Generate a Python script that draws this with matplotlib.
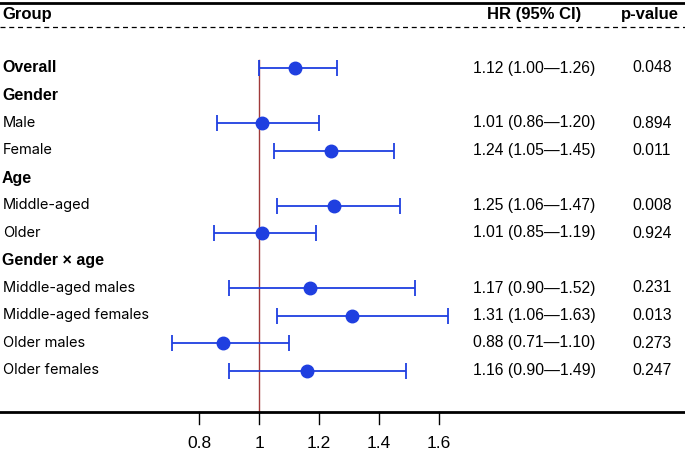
import matplotlib
matplotlib.use("Agg")
import matplotlib.pyplot as plt

# Rows of the forest plot (None = section header)
labels = ["Overall", "Gender", "Male", "Female", "Age", "Middle-aged", "Older",
          "Gender \u00d7 age", "Middle-aged males", "Middle-aged females",
          "Older males", "Older females"]
is_header = [True, True, False, False, True, False, False,
             True, False, False, False, False]
hr = [1.12, None, 1.01, 1.24, None, 1.25, 1.01, None, 1.17, 1.31, 0.88, 1.16]
ci_low = [1.00, None, 0.86, 1.05, None, 1.06, 0.85, None, 0.90, 1.06, 0.71, 0.90]
ci_high = [1.26, None, 1.20, 1.45, None, 1.47, 1.19, None, 1.52, 1.63, 1.10, 1.49]
p_values = ["0.048", None, "0.894", "0.011", None, "0.008", "0.924", None,
            "0.231", "0.013", "0.273", "0.247"]
x_ticks = [0.8, 1.0, 1.2, 1.4, 1.6]
x_tick_labels = ["0.8", "1", "1.2", "1.4", "1.6"]

BLUE = "#1f3fe0"
REF = "#a03a3a"

fig = plt.figure(figsize=(6.85, 4.53), dpi=100)
ax = fig.add_axes([0, 0, 1, 1])
# x in HR units, y in pixel rows from the top
px_per_unit = 300.0
x0 = 1 - 259 / px_per_unit
x1 = 1 + (685 - 259) / px_per_unit
ax.set_xlim(x0, x1)
ax.set_ylim(453, 0)
ax.axis("off")

def px(xpix):
    return x0 + xpix / px_per_unit

# header rules and text
ax.plot([x0, x1], [3, 3], color="black", lw=2)
ax.plot([x0, x1], [27, 27], color="black", lw=0.9, ls=(0, (4, 3)))
hdr = dict(family="Liberation Sans", fontsize=12, fontweight="bold", va="center")
ax.text(px(2), 15, "Group", ha="left", **hdr)
ax.text(px(534), 15, "HR (95% CI)", ha="center", **hdr)
ax.text(px(650), 15, "p-value", ha="center", **hdr)

row_y0, row_step = 68, 27.5
for i, lab in enumerate(labels):
    y = row_y0 + i * row_step
    if is_header[i]:
        ax.text(px(2), y, lab, ha="left", va="center", family="Liberation Sans",
                fontsize=11.5, fontweight="bold")
    else:
        ax.text(px(3), y, lab, ha="left", va="center", family="Inter",
                fontsize=10.5)
    if hr[i] is None:
        continue
    ax.errorbar(hr[i], y, xerr=[[hr[i] - ci_low[i]], [ci_high[i] - hr[i]]],
                fmt="o", color=BLUE, ms=9, elinewidth=1.3, capsize=6,
                capthick=1.3, zorder=3)
    ax.text(px(534), y, f"{hr[i]:.2f} ({ci_low[i]:.2f}\u2014{ci_high[i]:.2f})",
            ha="center", va="center", family="Liberation Sans", fontsize=11.3)
    ax.text(px(652), y, p_values[i], ha="center", va="center",
            family="Liberation Sans", fontsize=11.3)

# reference line
ax.plot([1, 1], [60, 412], color=REF, lw=1, zorder=2)

# bottom axis
ax.plot([x0, x1], [412, 412], color="black", lw=2)
for t, tl in zip(x_ticks, x_tick_labels):
    ax.plot([t, t], [412, 424], color="black", lw=1)
    ax.text(t, 443, tl, ha="center", va="center", family="Liberation Sans",
            fontsize=12.5)

fig.savefig("out.png", dpi=100)
